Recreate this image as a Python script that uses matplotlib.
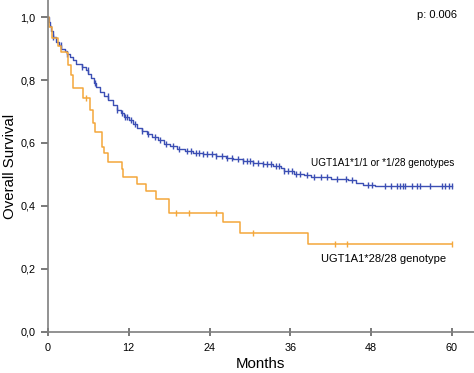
import numpy as np
import matplotlib
matplotlib.use("Agg")
import matplotlib.pyplot as plt

plt.rcParams['font.family'] = ['Liberation Sans', 'DejaVu Sans']

# Kaplan-Meier steps (months, survival)
wt_times = [0, 0.1, 0.3, 0.5, 0.8, 1.2, 1.6, 2.0, 2.5, 2.9, 3.3, 3.7, 4.2, 5.0,
            5.6, 6.0, 6.4, 6.8, 7.2, 7.7, 8.3, 9.0, 9.6, 10.2, 10.8, 11.3, 12.0,
            12.6, 13.2, 14.0, 14.7, 15.5, 16.4, 17.3, 18.2, 19.2, 20.3, 21.5,
            23.0, 25.0, 26.5, 27.5, 29.0, 30.5, 32.0, 33.5, 34.6, 35.0, 36.5,
            38.0, 39.0, 42.0, 44.5, 45.8, 46.8, 48.5, 60.0]
wt_surv = [1.0, 0.985, 0.97, 0.955, 0.935, 0.92, 0.912, 0.9, 0.893, 0.883, 0.873,
           0.863, 0.852, 0.842, 0.832, 0.82, 0.805, 0.79, 0.778, 0.763, 0.75,
           0.735, 0.72, 0.706, 0.694, 0.683, 0.672, 0.66, 0.648, 0.638, 0.63,
           0.62, 0.61, 0.598, 0.59, 0.582, 0.575, 0.569, 0.564, 0.56, 0.553,
           0.548, 0.543, 0.538, 0.533, 0.527, 0.52, 0.51, 0.503, 0.497, 0.491,
           0.487, 0.483, 0.474, 0.467, 0.463, 0.463]
wt_censored = [0.8, 1.9, 2.9, 5.0, 5.9, 7.0, 8.9, 10.2, 11.0, 11.4, 11.8, 12.3,
               13.0, 14.0, 14.9, 15.9, 16.7, 17.6, 18.6, 19.5, 20.6, 21.3, 22.0,
               22.5, 23.0, 23.6, 24.3, 25.0, 25.8, 26.6, 27.3, 28.3, 29.0, 29.5,
               30.0, 30.5, 31.2, 32.0, 32.5, 33.2, 33.8, 34.3, 35.0, 35.6, 36.2,
               36.8, 37.5, 38.5, 39.5, 40.5, 41.5, 43.0, 44.3, 45.2, 47.6, 48.1,
               50.0, 51.0, 51.8, 52.3, 52.8, 53.0, 54.0, 54.8, 55.2, 56.7, 58.5,
               59.0, 59.5, 60.0]

mut_times = [0, 0.2, 0.64, 1.53, 1.9, 2.8, 3.0, 3.5, 3.76, 5.25, 6.24, 6.73, 6.98,
             7.97, 8.37, 8.96, 10.94, 11.2, 13.17, 14.56, 16.04, 18.0, 26.0,
             28.5, 38.6, 60.0]
mut_surv = [1.0, 0.969, 0.932, 0.908, 0.89, 0.885, 0.848, 0.816, 0.774, 0.742,
            0.705, 0.662, 0.636, 0.588, 0.567, 0.541, 0.517, 0.493, 0.471, 0.447,
            0.422, 0.377, 0.348, 0.313, 0.279, 0.279]
mut_censored = [5.7, 19.0, 21.0, 24.95, 30.5, 42.6, 44.4, 60.0]

blue = '#3c4fb4'
orange = '#f4a73b'


def surv_at(times, surv, t):
    idx = np.searchsorted(times, t, side='right') - 1
    return np.asarray(surv)[idx]


fig = plt.figure(figsize=(4.74, 3.73), dpi=100)
ax = fig.add_axes([0.101, 0.110, 0.899, 0.890])

# Curves
ax.step(wt_times, wt_surv, where='post', color=blue, lw=1.0)
ax.plot(wt_censored, surv_at(wt_times, wt_surv, wt_censored), ls='none',
        marker='|', ms=5, mew=1.0, color=blue)
ax.step(mut_times, mut_surv, where='post', color=orange, lw=1.1)
ax.plot(mut_censored, surv_at(mut_times, mut_surv, mut_censored), ls='none',
        marker='|', ms=5, mew=1.0, color=orange)

ax.set_xlim(0, 63.27)
ax.set_ylim(0, 1.054)
ax.set_xticks([0, 12, 24, 36, 48, 60])
ax.set_yticks([0, 0.2, 0.4, 0.6, 0.8, 1.0])
ax.set_yticklabels(['0,0', '0,2', '0,4', '0,6', '0,8', '1,0'])

for side in ['top', 'right']:
    ax.spines[side].set_visible(False)
for side in ['left', 'bottom']:
    ax.spines[side].set_color('#7f7f7f')
    ax.spines[side].set_linewidth(1.2)
ax.tick_params(axis='y', direction='out', length=5, width=1.1, color='#555555',
               labelsize=7.8, pad=4)
ax.tick_params(axis='x', direction='inout', length=6, width=1.1, color='#555555',
               labelsize=7.8, pad=5)

ax.set_xlabel('Months', fontsize=10.8, labelpad=3)
ax.set_ylabel('Overall Survival', fontsize=10.8, labelpad=2)

ax.text(60.3, 0.536, 'UGT1A1*1/1 or *1/28 genotypes', ha='right', va='center',
        fontsize=7.2)
ax.text(59.1, 0.231, 'UGT1A1*28/28 genotype', ha='right', va='center',
        fontsize=8)
ax.text(60.8, 1.006, 'p: 0.006', ha='right', va='center', fontsize=8)

fig.savefig('out.png', dpi=100)
